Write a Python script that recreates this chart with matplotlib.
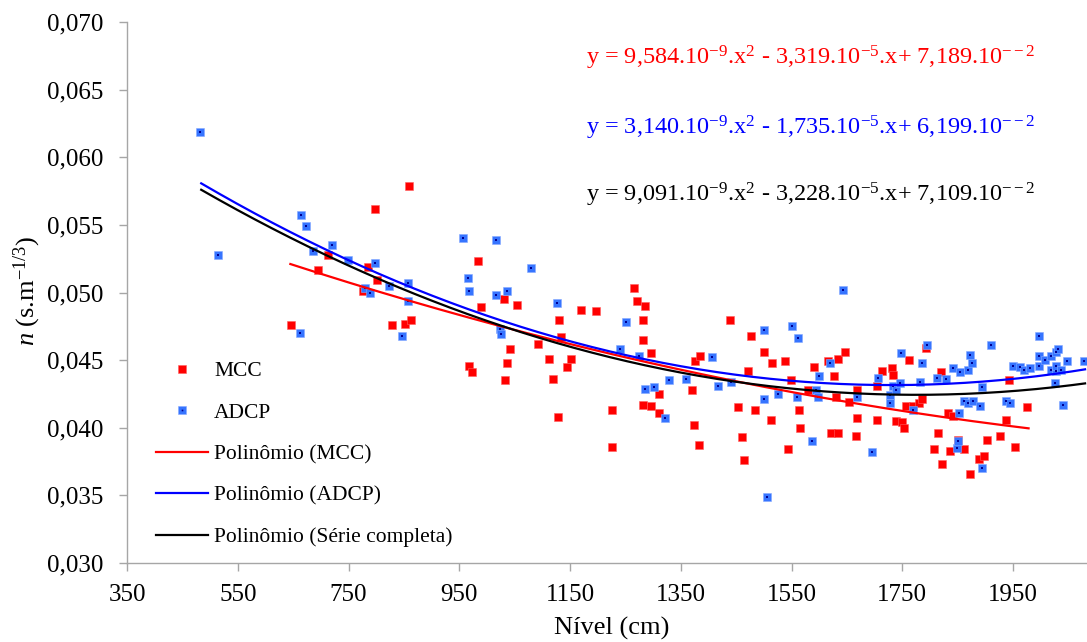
import numpy as np
import matplotlib
matplotlib.use('Agg')
import matplotlib.pyplot as plt
from matplotlib.lines import Line2D
from matplotlib.legend_handler import HandlerTuple
from matplotlib.ticker import FuncFormatter

plt.rcParams['font.family'] = ['Liberation Serif', 'DejaVu Serif']
plt.rcParams['mathtext.fontset'] = 'custom'
plt.rcParams['mathtext.rm'] = 'Liberation Serif'
plt.rcParams['mathtext.it'] = 'Liberation Serif:italic'

# MCC (red squares): level (cm), Manning n
mcc_nivel = [646, 695, 713, 777, 785, 797, 801, 829, 852, 860, 862, 968, 973, 984, 989,
             1031, 1033, 1037, 1042, 1054, 1093, 1112, 1119, 1128, 1130, 1133, 1144, 1151,
             1170, 1197, 1225, 1225, 1265, 1271, 1281, 1281, 1281, 1285, 1297, 1297, 1311,
             1311, 1371, 1373, 1376, 1383, 1385, 1438, 1454, 1461, 1464, 1471, 1476, 1484,
             1501, 1512, 1514, 1538, 1544, 1549, 1564, 1565, 1580, 1591, 1616, 1621, 1626,
             1631, 1633, 1633, 1647, 1653, 1667, 1668, 1668, 1704, 1704, 1714, 1732, 1734,
             1739, 1749, 1753, 1757, 1762, 1769, 1780, 1786, 1792, 1808, 1815, 1820, 1822,
             1832, 1836, 1842, 1850, 1862, 1873, 1889, 1898, 1903, 1927, 1938, 1943, 1954,
             1976]
mcc_n = [0.0476, 0.0517, 0.0528, 0.0501, 0.0519, 0.0562, 0.0509, 0.0476, 0.0477, 0.0579,
         0.0480, 0.0446, 0.0441, 0.0523, 0.0489, 0.0495, 0.0435, 0.0448, 0.0458, 0.0491,
         0.0462, 0.0451, 0.0436, 0.0408, 0.0480, 0.0467, 0.0445, 0.0451, 0.0487, 0.0486,
         0.0413, 0.0386, 0.0503, 0.0494, 0.0480, 0.0465, 0.0417, 0.0490, 0.0455, 0.0416,
         0.0425, 0.0411, 0.0428, 0.0402, 0.0449, 0.0387, 0.0453, 0.0480, 0.0415, 0.0393,
         0.0376, 0.0442, 0.0468, 0.0413, 0.0456, 0.0406, 0.0448, 0.0449, 0.0384, 0.0435,
         0.0413, 0.0400, 0.0428, 0.0445, 0.0449, 0.0396, 0.0438, 0.0423, 0.0451, 0.0396,
         0.0456, 0.0419, 0.0394, 0.0428, 0.0407, 0.0406, 0.0431, 0.0442, 0.0444, 0.0439,
         0.0405, 0.0404, 0.0400, 0.0416, 0.0450, 0.0416, 0.0418, 0.0421, 0.0459, 0.0384,
         0.0396, 0.0441, 0.0373, 0.0411, 0.0383, 0.0409, 0.0391, 0.0384, 0.0366, 0.0377,
         0.0379, 0.0391, 0.0394, 0.0406, 0.0435, 0.0386, 0.0415]

# ADCP (blue squares)
adcp_nivel = [482, 514, 663, 665, 673, 685, 721, 749, 780, 789, 797, 823, 846, 857, 857,
              957, 966, 968, 1016, 1016, 1023, 1026, 1036, 1080, 1126, 1241, 1251, 1274,
              1286, 1302, 1322, 1329, 1359, 1406, 1418, 1441, 1501, 1501, 1505, 1526, 1551,
              1559, 1562, 1587, 1594, 1598, 1600, 1619, 1642, 1668, 1695, 1707, 1728, 1728,
              1734, 1738, 1746, 1748, 1769, 1782, 1785, 1794, 1813, 1828, 1841, 1849, 1850,
              1852, 1855, 1861, 1869, 1869, 1873, 1876, 1877, 1891, 1894, 1894, 1910, 1937,
              1945, 1949, 1963, 1970, 1980, 1996, 1996, 1996, 2008, 2018, 2018, 2026, 2027,
              2028, 2028, 2031, 2036, 2040, 2047, 2078]
adcp_n = [0.0619, 0.0528, 0.0470, 0.0557, 0.0549, 0.0531, 0.0535, 0.0524, 0.0503, 0.0500,
          0.0522, 0.0505, 0.0468, 0.0507, 0.0494, 0.0540, 0.0511, 0.0501, 0.0539, 0.0498,
          0.0473, 0.0469, 0.0501, 0.0518, 0.0492, 0.0458, 0.0478, 0.0453, 0.0429, 0.0430,
          0.0407, 0.0435, 0.0436, 0.0452, 0.0431, 0.0434, 0.0472, 0.0421, 0.0349, 0.0425,
          0.0475, 0.0423, 0.0466, 0.0390, 0.0428, 0.0423, 0.0438, 0.0448, 0.0502, 0.0423,
          0.0382, 0.0437, 0.0424, 0.0418, 0.0431, 0.0428, 0.0433, 0.0455, 0.0413, 0.0434,
          0.0448, 0.0461, 0.0437, 0.0436, 0.0444, 0.0385, 0.0390, 0.0411, 0.0441, 0.0420,
          0.0443, 0.0418, 0.0454, 0.0448, 0.0420, 0.0416, 0.0370, 0.0430, 0.0461, 0.0420,
          0.0418, 0.0446, 0.0445, 0.0443, 0.0444, 0.0468, 0.0453, 0.0446, 0.0450, 0.0453,
          0.0443, 0.0433, 0.0442, 0.0456, 0.0446, 0.0458, 0.0443, 0.0417, 0.0449, 0.0449]

# trendline coefficients (a, b, c) and level range, as drawn
poly_mcc = [3.140e-9, -1.735e-5, 6.199e-2]
range_mcc = [645, 1978]
poly_adcp = [9.584e-9, -3.319e-5, 7.189e-2]
range_adcp = [484, 2080]
poly_all = [9.091e-9, -3.228e-5, 7.109e-2]
range_all = [484, 2080]

eq_texts = [
    (r'y = 9,584.10$^{-9}$.x$^{2}$ - 3,319.10$^{-5}$.x+ 7,189.10$^{--2}$', 'red'),
    (r'y = 3,140.10$^{-9}$.x$^{2}$ - 1,735.10$^{-5}$.x+ 6,199.10$^{--2}$', 'blue'),
    (r'y = 9,091.10$^{-9}$.x$^{2}$ - 3,228.10$^{-5}$.x+ 7,109.10$^{--2}$', 'black'),
]

W, H = 1087, 642
fig = plt.figure(figsize=(W / 100, H / 100), dpi=100)
ax = fig.add_axes([127 / W, 1 - 563 / H, 1 - 127 / W, (563 - 22) / H])

blue_face = '#3674FF'
blue_edge = '#86AAFF'
ax.scatter(mcc_nivel, mcc_n, marker='s', s=30, color='#FF0000', edgecolors='#FF6060',
           linewidths=0.4, zorder=2)
ax.scatter(adcp_nivel, adcp_n, marker='s', s=30, color=blue_face, edgecolors=blue_edge,
           linewidths=0.4, zorder=3)
ax.scatter(adcp_nivel, adcp_n, marker='s', s=1.5, color='#000090', linewidths=0, zorder=3.1)

for coefs, rng, col in [(poly_mcc, range_mcc, '#FF0000'),
                        (poly_adcp, range_adcp, '#0000FF'),
                        (poly_all, range_all, 'black')]:
    xs = np.linspace(rng[0], rng[1], 200)
    ax.plot(xs, np.polyval(coefs, xs), color=col, lw=1.6, zorder=4)

ax.set_xlim(350, 2083.5)
ax.set_ylim(0.030, 0.070)
ax.set_xticks(np.arange(350, 2000, 200))
ax.set_yticks(np.arange(0.030, 0.0701, 0.005))
ax.yaxis.set_major_formatter(FuncFormatter(lambda v, p: f'{v:.3f}'.replace('.', ',')))

for s in ['top', 'right']:
    ax.spines[s].set_visible(False)
for s in ['left', 'bottom']:
    ax.spines[s].set_color('#A6A6A6')
    ax.spines[s].set_linewidth(1.0)
ax.tick_params(axis='both', direction='out', length=6, width=1.0, color='#A6A6A6',
               labelsize=18, labelcolor='black')
ax.tick_params(axis='y', pad=11)
ax.tick_params(axis='x', pad=9)

ax.set_xlabel('Nível (cm)', fontsize=19)
ax.xaxis.set_label_coords((612 - 127) / (W - 127), -(628 - 563) / (563 - 22))
ax.xaxis.label.set_va('center')
ax.set_ylabel(r'$n$ (s.m$^{-1/3}$)', fontsize=19)
ax.yaxis.set_label_coords(-(127 - 27) / (W - 127), (563 - 291) / (563 - 22))
ax.yaxis.label.set_va('center')

for (txt, col), ypix in zip(eq_texts, [58, 128, 195]):
    fig.text(1036 / W, 1 - ypix / H, txt, color=col, fontsize=17.5, ha='right', va='center')

h_mcc = Line2D([], [], ls='none', marker='s', ms=5.5, color='#FF0000', mec='#FF6060', mew=0.4)
h_adcp_sq = Line2D([], [], ls='none', marker='s', ms=5.5, color=blue_face, mec=blue_edge, mew=0.4)
h_adcp_dot = Line2D([], [], ls='none', marker='s', ms=1.2, color='#000090', mew=0)
h_pm = Line2D([], [], color='#FF0000', lw=1.6)
h_pa = Line2D([], [], color='#0000FF', lw=1.6)
h_ps = Line2D([], [], color='black', lw=1.6)
leg = ax.legend([h_mcc, (h_adcp_sq, h_adcp_dot), h_pm, h_pa, h_ps],
                ['MCC', 'ADCP', 'Polinômio (MCC)', 'Polinômio (ADCP)', 'Polinômio (Série completa)'],
                handler_map={tuple: HandlerTuple(ndivide=1, pad=0)},
                loc='upper left', bbox_to_anchor=(156 / W, 1 - 361 / H),
                bbox_transform=fig.transFigure, frameon=False, fontsize=15.5,
                borderpad=0, borderaxespad=0, handlelength=2.4, handletextpad=0.3,
                labelspacing=1.0)

fig.savefig('out.png', dpi=100)
